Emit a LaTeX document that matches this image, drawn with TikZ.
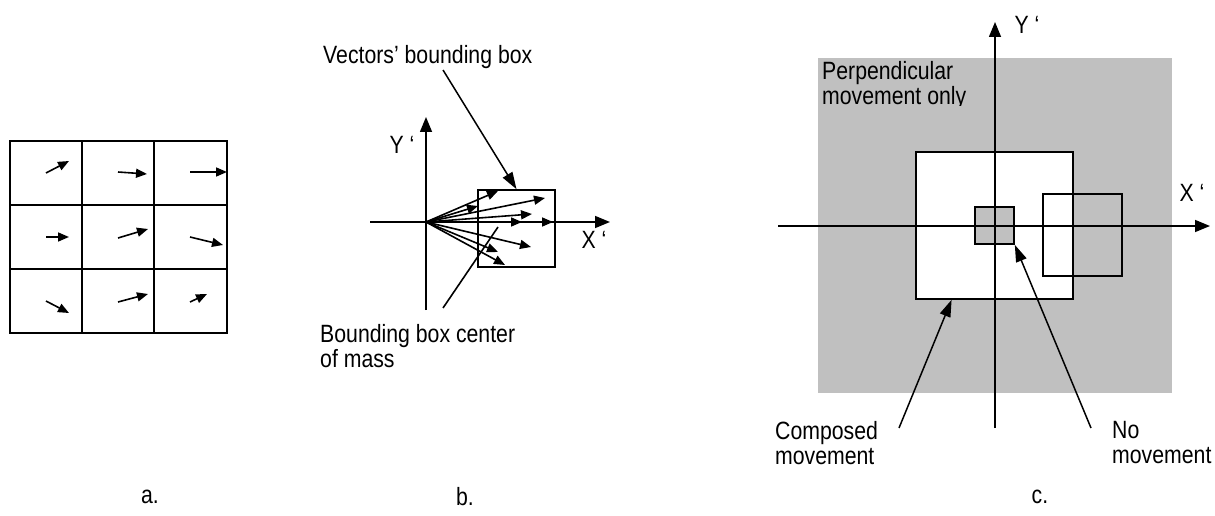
\documentclass[tikz,border=0pt]{standalone}
\usepackage{fontspec}
\setmainfont{Liberation Sans}[FakeStretch=0.85]
\usetikzlibrary{arrows.meta}
\usetikzlibrary{positioning}

\definecolor{shadegray}{RGB}{192,192,192}

\tikzset{
	frame/.style={line width=1.6pt},
	cellline/.style={line width=2.2pt, line cap=rect},
	vec/.style={line width=1.6pt, -{Triangle[length=11pt,width=9pt]}},
	axis/.style={line width=1.5pt, -{Triangle[length=15pt,width=12pt]}},
	lead/.style={line width=1.5pt, -{Triangle[length=17pt,width=11pt]}},
	lbl/.style={inner sep=0pt, font=\fontsize{25}{25}\selectfont, align=left},
}

\begin{document}
\begin{tikzpicture}[x=1pt,y=-1pt]
	\useasboundingbox (0,0) rectangle (1215,516);

	% a. grid of motion vectors
	\foreach \gx in {10,82,154,227}
		\draw[cellline] (\gx,141) -- (\gx,333);
	\foreach \gy in {141,205,269,333}
		\draw[cellline] (10,\gy) -- (227,\gy);
	\foreach \sx/\sy/\ex/\ey in {46/173/69/161, 118/172/147/174, 190/172/227/172,
			46/237/69/237, 118/238/148/229, 190/237/223/245,
			46/301/69/313, 118/302/148/294, 190/302/207/294}
		\draw[vec] (\sx,\sy) -- (\ex,\ey);
	\node[lbl] (capa) at (150,497) {a.};

	% b. vectors in the rotated frame
	\coordinate (orig) at (426,222);
	\node[draw, frame, minimum width=77pt, minimum height=77pt, inner sep=0pt] (bbox) at (516.5,228.5) {};
	\draw[axis] (370,222) -- (610,222);
	\draw[axis] (426,310) -- (426,117);
	\node[lbl] (ylabb) at (402,145) {Y ‘};
	\node[lbl] (xlabb) at (594,240) {X ‘};
	\foreach \tip in {(498,191),(478,206),(545,198),(532,214),(522,222),
			(553,222),(531,247),(498,252),(505,265)}
		\draw[vec] (orig) -- \tip;
	\node[lbl, anchor=west] (vbb) at (323,57) {Vectors’ bounding box};
	\coordinate (vbbfoot) at (443,70);
	\draw[lead] (vbbfoot) -- (bbox.north);
	\node[lbl, anchor=north west] (bcm) at (320,324) {Bounding box center\\of mass};
	\coordinate (bcmfoot) at (443,308);
	\coordinate (mass) at (498,227);
	\draw[frame] (bcmfoot) -- (mass);
	\node[lbl] (capb) at (465,497) {b.};

	% c. movement zones
	\node[fill=shadegray, minimum width=354pt, minimum height=335pt, inner sep=0pt] (perp) at (995,225.5) {};
	\node[draw, frame, fill=white, minimum width=157pt, minimum height=147pt, inner sep=0pt] (comp) at (994.5,225.5) {};
	\node[draw, frame, fill=shadegray, minimum width=39pt, minimum height=37pt, inner sep=0pt] (nomov) at (994.5,225.5) {};
	\node[draw, frame, minimum width=79pt, minimum height=82pt, inner sep=0pt] (shift) at (1082.5,235) {};
	\draw[axis] (778,226) -- (1210,226);
	\draw[axis] (995,428) -- (995,22);
	\node[lbl] (ylabc) at (1027,25) {Y ‘};
	\node[lbl] (xlabc) at (1192,193) {X ‘};
	\begin{scope}
		\clip (815,50) rectangle (1100,106);
		\node[lbl, anchor=north west] (perptxt) at (822,61) {Perpendicular\\movement only};
	\end{scope}
	\begin{scope}
		\clip (770,415) rectangle (1215,465);
		\node[lbl, anchor=north west] (comptxt) at (775,421) {Composed\\movement};
		\node[lbl, anchor=north west] (nomovtxt) at (1112,421) {No\\movement};
	\end{scope}
	\coordinate (compfoot) at (899,428);
	\coordinate (nomovfoot) at (1091,428);
	\draw[lead] (compfoot) -- (comp.-120);
	\draw[lead] (nomovfoot) -- (nomov.south east);
	\node[lbl] (capc) at (1040,497) {c.};
\end{tikzpicture}
\end{document}
